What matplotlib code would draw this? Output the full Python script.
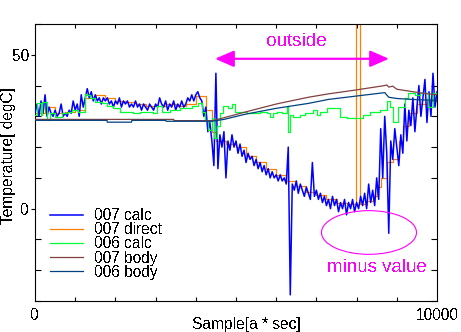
import numpy as np
import matplotlib
matplotlib.use("Agg")
import matplotlib.pyplot as plt
from matplotlib.patches import Ellipse
from matplotlib.ticker import FixedLocator, MultipleLocator

plt.rcParams['font.family'] = ['Liberation Sans', 'DejaVu Sans']
plt.rcParams['text.antialiased'] = False

# ---- data -------------------------------------------------------------
sample_step = 50  # spacing of the 007 calc samples [a * sec]

calc_007 = [
    31, 34, 30, 35, 31, 37, 30, 33, 31, 30, 32, 30, 31, 34, 30, 31, 30, 32, 31, 35,
    32, 34, 30, 37, 33, 36, 39, 36, 38, 35, 37, 35, 36, 34, 36, 35, 36, 34, 35, 33,
    35, 34, 36, 33, 35, 34, 35, 33, 34, 33, 35, 33, 34, 32, 34, 33, 32, 34, 33, 32,
    34, 33, 36, 34, 33, 35, 32, 34, 33, 35, 32, 34, 33, 35, 33, 34, 36, 35, 37, 35,
    37, 38, 36, 35, 30, 33, 25, 28, 22, 14, 44, 13, 24, 20, 25, 10, 22, 19, 24, 20,
    22, 18, 21, 17, 19, 15, 18, 16, 17, 14, 16, 13, 15, 12, 14, 11, 13, 10, 12, 10,
    11, 9, 11, 9, 10, 8, 20, -28, 8, 6, 9, 5, 8, 6, 4, 7, 5, 3, 15, 4,
    6, 3, 5, 2, 4, 1, 3, 0, 4, 1, 3, -1, 2, 0, 3, -2, 2, 0, 3, -1,
    2, 0, 4, 1, 5, 0, 8, 2, 6, 1, 10, 3, 26, 10, 30, 18, -8, 22, 16, 26,
    20, 14, 24, 18, 34, 22, 32, 27, 36, 25, 33, 40, 30, 36, 42, 28, 38, 30, 44, 33,
    38,
]

direct_x = [0, 250, 500, 750, 1000, 1250, 1500, 1750, 2000, 2250, 2500, 2750,
            3000, 3250, 3500, 3750, 4000, 4250, 4400, 4500, 4750, 5000, 5250,
            5500, 5750, 6000, 6250, 6500, 6750, 7000, 7250, 7500, 7750, 7990,
            8090, 8250, 8400, 8500, 8600, 8750, 8900, 9050, 9150, 9300, 9500,
            9750, 10000]
direct_007 = [31, 33, 31, 31.5, 32, 36, 37, 36, 35, 34.5, 34, 33.5,
              33.5, 34, 33.5, 34, 36.5, 32, 25, 22, 21, 20, 17,
              15, 13, 11, 9, 7.5, 5.5, 4.5, 3, 2, 1.5, 100,
              1.5, 2.5, 4, 7, 10, 15, 16, 22, 27, 31, 34,
              35, 36]

calc006_x = [0, 50, 150, 175, 300, 375, 500, 670, 820, 920, 1070, 1240, 1295,
             1370, 1490, 1670, 1790, 1940, 2115, 2440, 2610, 2935, 3035, 3160,
             3360, 3605, 3905, 4055, 4155, 4230, 4305, 4405, 4455, 4530, 4600,
             4675, 4800, 4900, 4975, 5275, 5595, 5770, 5845, 5920, 6020, 6145,
             6270, 6295, 6345, 6420, 6590, 6715, 6915, 7015, 7090, 7265, 7415,
             7585, 7760, 8160, 8335, 8580, 8755, 8830, 8905, 9030, 9205, 9280,
             9455, 9580, 9775, 9900, 10000]
calc_006 = [30.3, 34.2, 30.3, 34.5, 28.7, 31, 29.7, 31, 31.3, 32, 31.3, 37.4, 36.8,
            35.8, 34.5, 34.2, 33.5, 32.6, 31.3, 31, 31.3, 31, 33.5, 31.3,
            32, 32.6, 33.5, 34.2, 31.3, 28.7, 25.5, 29.4, 23, 27, 31,
            33.5, 32.6, 33.9, 31.3, 31, 31.3, 31, 29.7, 31, 31.3, 31,
            33.5, 24.8, 30.3, 29.7, 30.3, 31, 32, 30.3, 31.3, 32.6, 32.6,
            29.7, 29.5, 30.3, 31.3, 32, 35, 33, 28, 33, 36, 37.7,
            37, 37.7, 33, 37.7, 37.7]

body007_x = [0, 3450, 3460, 4400, 4600, 5200, 6000, 6800, 7300, 8000, 8700,
             8750, 8800, 8900, 9000, 9300, 9700, 10000]
body_007 = [29.0, 29.0, 28.6, 28.6, 29.2, 31.3, 34.0, 36.2, 37.3, 38.6, 40.0,
            40.2, 39.5, 39.8, 38.8, 38.2, 37.4, 37.0]

body006_x = [0, 1790, 1800, 2400, 2410, 3250, 3260, 4400, 4700, 5200, 6000,
             6800, 7300, 8000, 8700, 8800, 9000, 9500, 10000]
body_006 = [28.7, 28.7, 28.1, 28.1, 28.7, 28.7, 28.4, 28.4, 29.0, 30.6, 32.6,
            34.2, 35.5, 36.6, 37.7, 36.2, 35.8, 35.4, 35.2]

series_labels = ["007 calc", "007 direct", "006 calc", "007 body", "006 body"]
series_colors = ["#0000ff", "#ff8000", "#00ff33", "#804040", "#004080"]

x_major = [0, 10000]
y_major = [0, 50]

# ---- figure -----------------------------------------------------------
W, H = 461, 332
LW = 0.9
fig = plt.figure(figsize=(W / 100, H / 100), dpi=100)
ax = fig.add_axes([35 / W, 1 - 301 / H, 402 / W, 277 / H])

sample_calc = np.arange(len(calc_007)) * sample_step

ax.plot(direct_x, direct_007, color=series_colors[1], lw=LW,
        drawstyle="steps-post", zorder=2, label=series_labels[1])
ax.plot(sample_calc, calc_007, color=series_colors[0], lw=1.1,
        zorder=3, label=series_labels[0])
ax.plot(calc006_x, calc_006, color=series_colors[2], lw=LW,
        drawstyle="steps-post", zorder=4, label=series_labels[2])
ax.plot(body007_x, body_007, color=series_colors[3], lw=LW,
        zorder=5, label=series_labels[3])
ax.plot(body006_x, body_006, color=series_colors[4], lw=LW,
        zorder=6, label=series_labels[4])

ax.set_xlim(0, 10000)
ax.set_ylim(-30, 60)

ax.xaxis.set_major_locator(FixedLocator(x_major))
ax.xaxis.set_minor_locator(MultipleLocator(1000))
ax.yaxis.set_major_locator(FixedLocator(y_major))
ax.yaxis.set_minor_locator(MultipleLocator(10))
ax.tick_params(axis="x", which="minor", direction="in", length=3,
               top=True, bottom=True, width=0.8)
ax.tick_params(axis="x", which="major", direction="in", length=0,
               pad=5, labelsize=11.2)
ax.tick_params(axis="y", which="minor", direction="in", length=4.5,
               left=True, right=True, width=0.8)
ax.tick_params(axis="y", which="major", direction="out", length=3,
               pad=1, labelsize=11.2, width=0.8)
for s in ax.spines.values():
    s.set_linewidth(0.8)

# legend, in the order of the data series
handles, labels = ax.get_legend_handles_labels()
order = [labels.index(l) for l in series_labels]
leg = ax.legend([handles[i] for i in order], [labels[i] for i in order],
                loc="upper left", bbox_to_anchor=(15 / 402, (301 - 208) / 277),
                frameon=False, fontsize=11.2, borderpad=0, borderaxespad=0,
                handlelength=2.1, handletextpad=0.75, labelspacing=-0.05)

# annotations
magenta = "#ff00ff"
ax.annotate("", xy=(4478, 48.7), xytext=(8806, 48.7),
            arrowprops=dict(arrowstyle="<|-|>,head_length=1.15,head_width=0.5",
                            color=magenta, lw=1.6, mutation_scale=10,
                            shrinkA=0, shrinkB=0), zorder=10)
ax.text(6510, 52.7, "outside", color=magenta, fontsize=13.7,
        ha="center", va="baseline", zorder=10)
ax.add_patch(Ellipse((8308, -7.74), 2363, 14.2, fill=False,
                     edgecolor=magenta, lw=0.8, zorder=10))
ax.text(8507, -20.6, "minus value", color=magenta, fontsize=13.5,
        ha="center", va="baseline", zorder=10)

# axis titles
fig.text(9 / W, 1 - 156 / H, "Temperature[ degC]", rotation=90,
         ha="center", va="center", fontsize=11.2)
fig.text(246 / W, 1 - 324 / H, "Sample[a * sec]",
         ha="center", va="center", fontsize=11.2)

fig.savefig("out.png", dpi=100)
